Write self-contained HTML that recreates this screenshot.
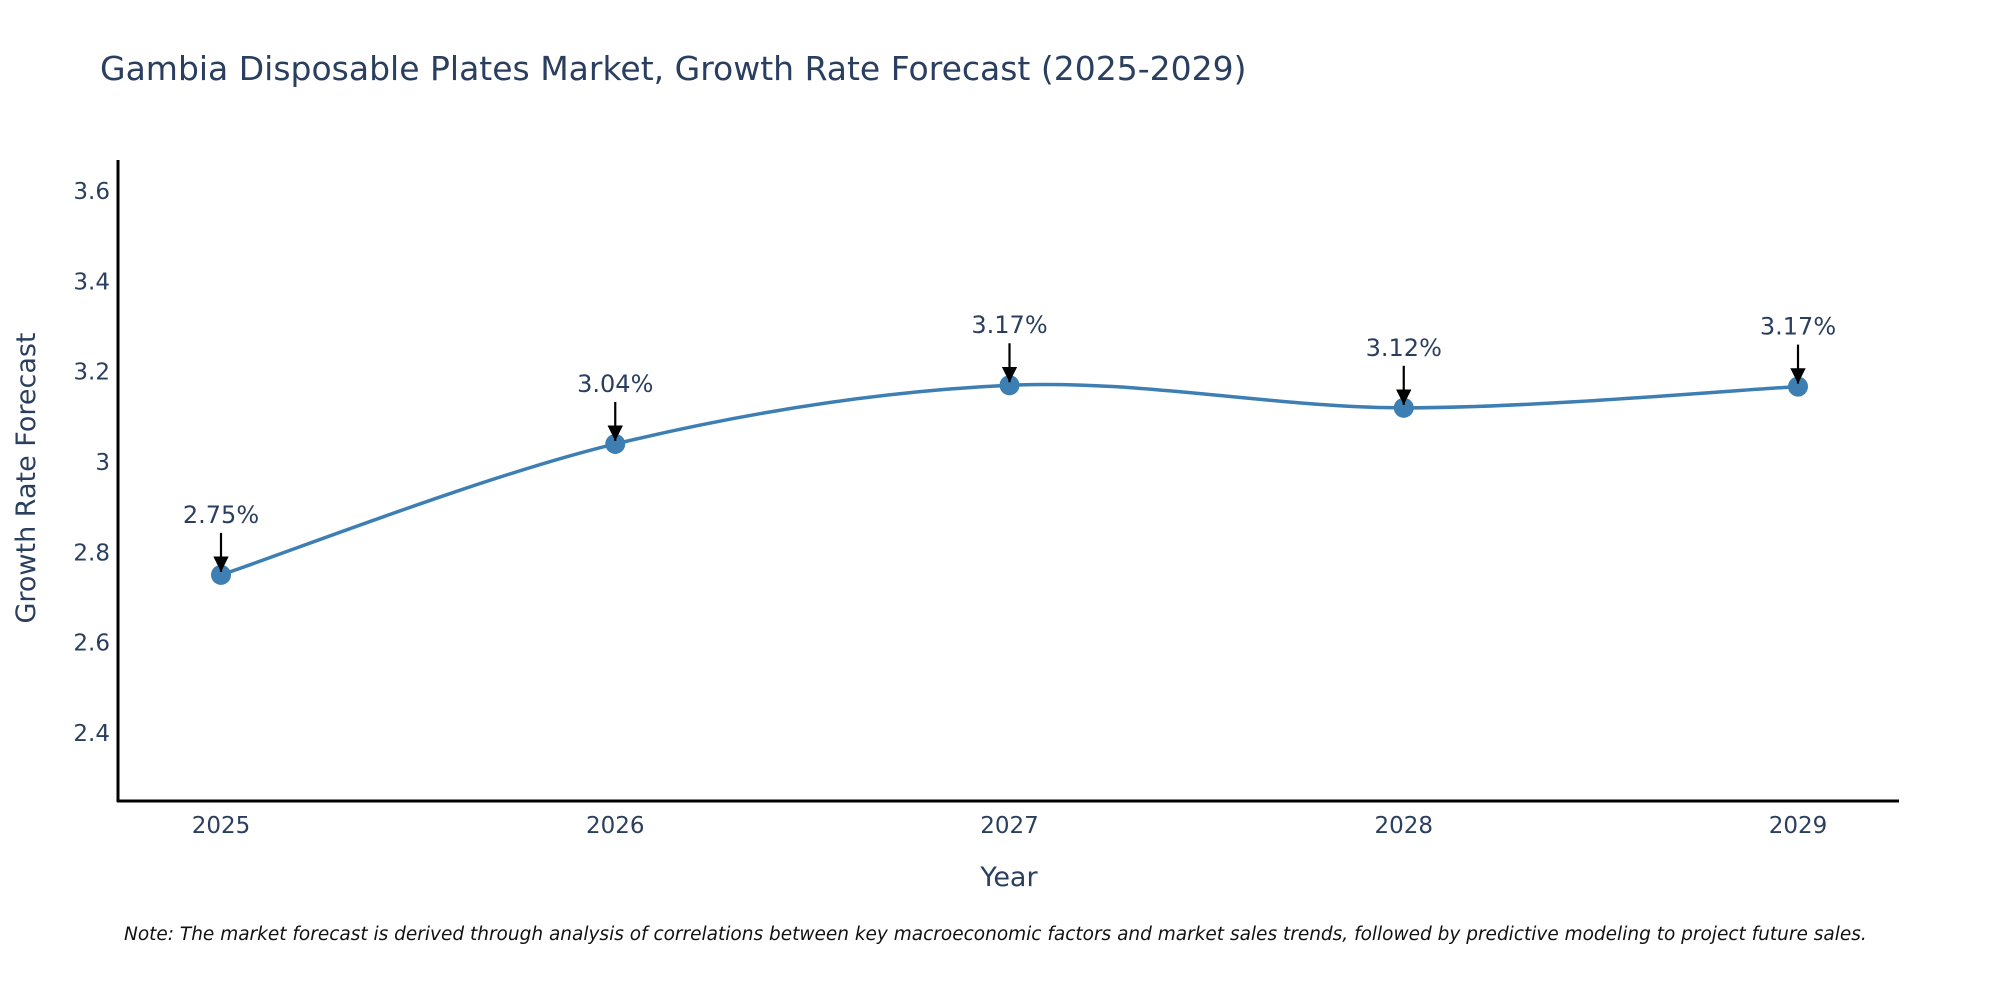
<!DOCTYPE html>
<html><head><meta charset="utf-8"><style>
body{margin:0;background:#fff;}
svg{display:block;font-family:"DejaVu Sans","Liberation Sans",sans-serif;}
</style></head><body>
<svg id="chart" width="2000" height="1000" viewBox="0 0 2000 1000">
<defs><marker id="ah" viewBox="0 0 10 10" refX="10" refY="5" markerWidth="7" markerHeight="7" markerUnits="strokeWidth" orient="auto"><path d="M0,0 L10,5 L0,10 z" fill="#000"/></marker></defs>
<text x="100" y="80" font-size="33" fill="#2a3f5f">Gambia Disposable Plates Market, Growth Rate Forecast (2025-2029)</text>
<g id="yticks"></g>
<g id="xticks"></g>
<line x1="118" y1="160" x2="118" y2="802" stroke="#000" stroke-width="3"/>
<line x1="117" y1="801" x2="1899" y2="801" stroke="#000" stroke-width="3"/>
<path id="line" fill="none" stroke="#3d7fb3" stroke-width="3.5"/>
<g id="points"></g>
<g id="annots"></g>
<text x="1009" y="886" font-size="27" fill="#2a3f5f" text-anchor="middle">Year</text>
<text transform="translate(35,478) rotate(-90)" font-size="27" fill="#2a3f5f" text-anchor="middle">Growth Rate Forecast</text>
<text x="124" y="940" font-size="18.5" font-style="italic" fill="#111">Note: The market forecast is derived through analysis of correlations between key macroeconomic factors and market sales trends, followed by predictive modeling to project future sales.</text>
</svg>
<script>
const years = ["2025","2026","2027","2028","2029"];
const values = [2.75, 3.04, 3.17, 3.12, 3.167];
const labels = ["2.75%","3.04%","3.17%","3.12%","3.17%"];
const yTicks = [2.4, 2.6, 2.8, 3, 3.2, 3.4, 3.6];
const NS="http://www.w3.org/2000/svg";
const X0=221, DX=394.25;
function xs(i){return X0+i*DX;}
function ys(v){return 462-(v-3)*451.5;}
function mk(tag,attrs,parent){const e=document.createElementNS(NS,tag);for(const k in attrs)e.setAttribute(k,attrs[k]);parent.appendChild(e);return e;}
const yt=document.getElementById('yticks');
yTicks.forEach(t=>{const e=mk('text',{x:110,y:ys(t)+8,'font-size':23,fill:'#2a3f5f','text-anchor':'end'},yt);


e.textContent=String(t);});
const xt=document.getElementById('xticks');
years.forEach((y,i)=>{const e=mk('text',{x:xs(i),y:833,'font-size':23,fill:'#2a3f5f','text-anchor':'middle'},xt);


e.textContent=y;});
const P=values.map((v,i)=>[xs(i),ys(v)]);
let d=`M${P[0][0]},${P[0][1]}`;const s=0.33;
for(let i=0;i<P.length-1;i++){const p0=P[i-1]||P[i],p1=P[i],p2=P[i+1],p3=P[i+2]||P[i+1];
const c1=[p1[0]+(p2[0]-p0[0])*s/2,p1[1]+(p2[1]-p0[1])*s/2];
const c2=[p2[0]-(p3[0]-p1[0])*s/2,p2[1]-(p3[1]-p1[1])*s/2];
d+=` C${c1[0]},${c1[1]} ${c2[0]},${c2[1]} ${p2[0]},${p2[1]}`;}
document.getElementById('line').setAttribute('d',d);
const pts=document.getElementById('points'),an=document.getElementById('annots');
values.forEach((v,i)=>{const c=mk('circle',{cx:xs(i),cy:ys(v),r:10,fill:'#3d7fb3'},pts);


const l=mk('line',{x1:xs(i),y1:ys(v)-42,x2:xs(i),y2:ys(v)-3,stroke:'#000','stroke-width':2.2,'marker-end':'url(#ah)'},an);


const t=mk('text',{x:xs(i),y:ys(v)-52,'font-size':24,fill:'#2a3f5f','text-anchor':'middle'},an);


t.textContent=labels[i];});
</script>
</body></html>
